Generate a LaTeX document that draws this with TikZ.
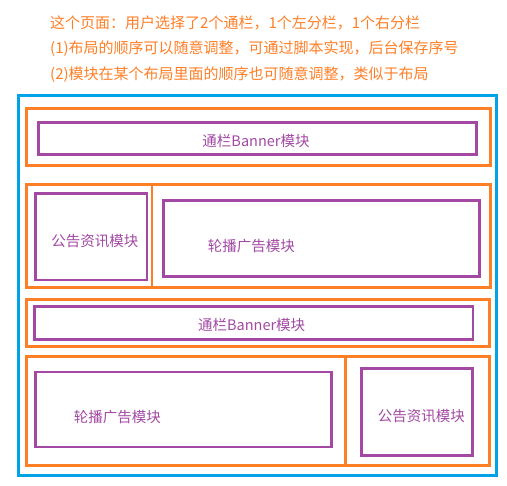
\documentclass[tikz,border=0pt]{standalone}
\usepackage{fontspec}
\newfontfamily\cjk{Noto Sans CJK SC}
\definecolor{cblue}{HTML}{00A2E8}
\definecolor{corange}{HTML}{FF7F27}
\definecolor{cpurple}{HTML}{A349A4}
\begin{document}
\begin{tikzpicture}[x=1pt,y=-1pt,
  outerbox/.style={draw=cblue,line width=3pt},
  layoutbox/.style={draw=corange,line width=2.7pt},
  modbox/.style={draw=cpurple,line width=2.7pt},
  divider/.style={draw=corange,line width=2.7pt},
  modtext/.style={text=cpurple,font=\cjk\fontsize{14.5pt}{17pt}\selectfont,inner sep=0pt},
  notetext/.style={text=corange,font=\cjk\fontsize{15pt}{18pt}\selectfont,anchor=west,inner sep=0pt}]
\useasboundingbox (0,0) rectangle (507,486);
\fill[white] (0,0) rectangle (507,486);
% notes
\node[notetext] (n1) at (50,23) {这个页面：用户选择了2个通栏，1个左分栏，1个右分栏};
\node[notetext] (n2) at (50,49) {(1)布局的顺序可以随意调整，可通过脚本实现，后台保存序号};
\node[notetext] (n3) at (50,75) {(2)模块在某个布局里面的顺序也可随意调整，类似于布局};
% outer container
\draw[outerbox] (18.7,95.7) rectangle (496,475.8);
% layout 1
\draw[layoutbox] (26.7,108.7) rectangle (490.3,165.7);
\draw[modbox] (38.5,122.7) rectangle (476.3,154.8);
\node[modtext] (b1) at (256,141) {通栏Banner模块};
% layout 2
\draw[layoutbox] (26.7,184.7) rectangle (490.3,287.2);
\coordinate (d1t) at (152,184.7);
\coordinate (d1b) at (152,287.2);
\draw[divider] (d1t) -- (d1b);
\draw[modbox] (35.7,193.7) rectangle (147,280);
\node[modtext] (g1) at (95,241) {公告资讯模块};
\draw[modbox] (163.7,200.7) rectangle (479.7,276.2);
\node[modtext] (l1) at (251.3,246) {轮播广告模块};
% layout 3
\draw[layoutbox] (26.7,299.3) rectangle (489.7,346.3);
\draw[modbox] (34.3,306.3) rectangle (473,339.3);
\node[modtext] (b2) at (251.7,325) {通栏Banner模块};
% layout 4
\draw[layoutbox] (26.7,356.3) rectangle (489.7,465.2);
\coordinate (d2t) at (345.3,356.3);
\coordinate (d2b) at (345.3,465.2);
\draw[divider] (d2t) -- (d2b);
\draw[modbox] (35.7,372) rectangle (331.7,447);
\node[modtext] (l2) at (117.5,416.7) {轮播广告模块};
\draw[modbox] (361.3,368.7) rectangle (472.7,455.3);
\node[modtext] (g2) at (421.3,416) {公告资讯模块};
\end{tikzpicture}
\end{document}
